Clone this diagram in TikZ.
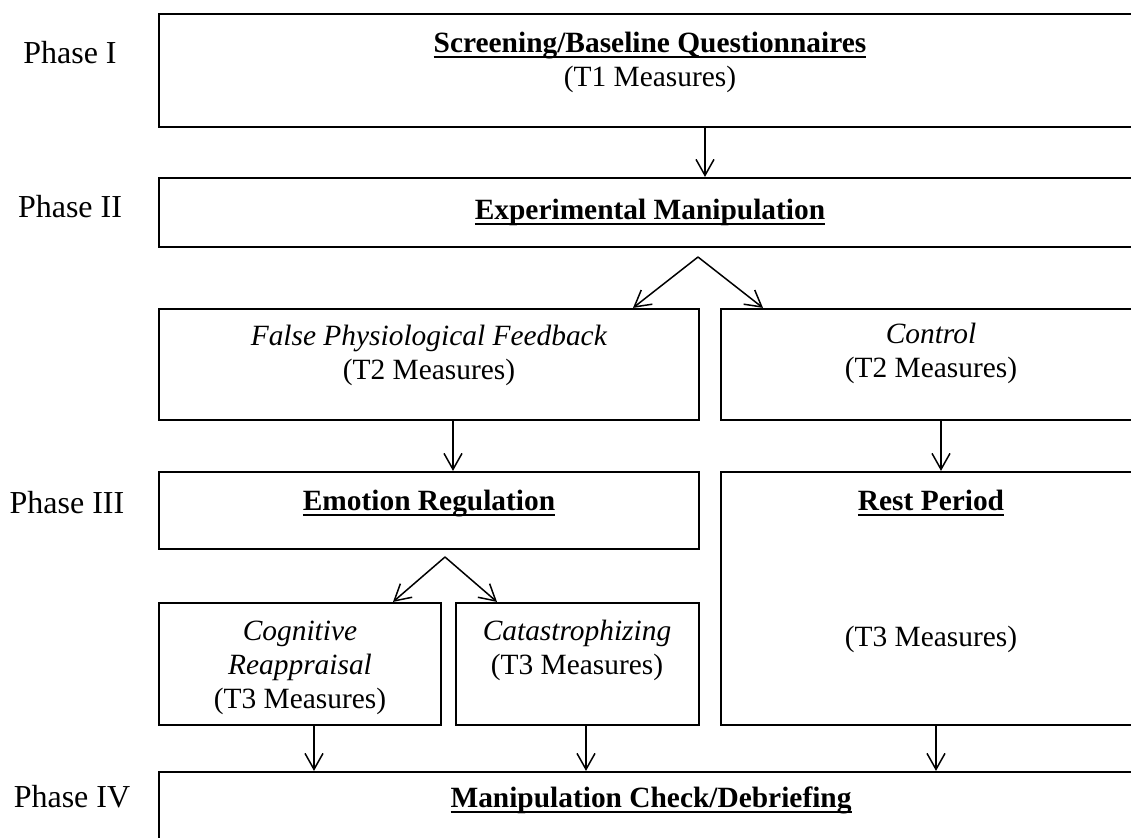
\documentclass[tikz,border=0pt]{standalone}
\usepackage{fontspec}
\setmainfont{Liberation Serif}
\usetikzlibrary{arrows.meta,fit}
\newcommand\ulbold[1]{\setbox0=\hbox{\bfseries #1}\rlap{\rule[-3pt]{\wd0}{1pt}}\box0}

\begin{document}
\begin{tikzpicture}[x=0.5pt,y=-0.5pt,>={Straight Barb[length=8pt,width=9pt]},
  box/.style={draw,line width=1.1pt,inner sep=0pt},
  txt/.style={anchor=base,align=center,inner sep=0pt,font=\fontsize{14.7}{17}\selectfont},
  phase/.style={anchor=base,inner sep=0pt,font=\fontsize{16}{19}\selectfont},
  flow/.style={->,line width=0.75pt}]
\clip (0,0) rectangle (1131,837);
\node[box,fit={(159,14)(1142,127)}] (scr) {};
\node[box,fit={(159,178)(1142,247)}] (exp) {};
\node[box,fit={(159,309)(699,420)}] (fpf) {};
\node[box,fit={(721,309)(1142,420)}] (ctl) {};
\node[box,fit={(159,472)(699,549)}] (emo) {};
\node[box,fit={(721,472)(1142,725)}] (rest) {};
\node[box,fit={(159,603)(441,725)}] (cog) {};
\node[box,fit={(456,603)(699,725)}] (cat) {};
\node[box,fit={(159,772)(1142,880)}] (man) {};
\node[phase] (ph1) at (70,63) {Phase I};
\node[phase] (ph2) at (70,217) {Phase II};
\node[phase] (ph3) at (67,513) {Phase III};
\node[phase] (ph4) at (72,807) {Phase IV};
\node[txt] (scrT) at (650,86) {\ulbold{Screening/Baseline Questionnaires}\\(T1 Measures)};
\node[txt] (expT) at (650,219) {\ulbold{Experimental Manipulation}};
\node[txt] (fpfT) at (429,379) {\textit{False Physiological Feedback}\\(T2 Measures)};
\node[txt] (ctlT) at (931,377) {\textit{Control}\\(T2 Measures)};
\node[txt] (emoT) at (429,510) {\ulbold{Emotion Regulation}};
\node[txt] (restT) at (931,510) {\ulbold{Rest Period}};
\node[txt] (restM) at (931,646) {(T3 Measures)};
\node[txt] (cogT) at (300,708) {\textit{Cognitive}\\\textit{Reappraisal}\\(T3 Measures)};
\node[txt] (catT) at (577,674) {\textit{Catastrophizing}\\(T3 Measures)};
\node[txt] (manT) at (651,807) {\ulbold{Manipulation Check/Debriefing}};
\coordinate (forkA) at (698,257);
\coordinate (forkB) at (445,557);
\draw[flow] (scr.south -| 705,0) -- (exp.north -| 705,0);
\draw[flow] (forkA) -- (fpf.north -| 633,0);
\draw[flow] (forkA) -- (ctl.north -| 763,0);
\draw[flow] (fpf.south -| 453,0) -- (emo.north -| 453,0);
\draw[flow] (ctl.south -| 941,0) -- (rest.north -| 941,0);
\draw[flow] (forkB) -- (cog.north -| 393,0);
\draw[flow] (forkB) -- (cat.north -| 497,0);
\draw[flow] (cog.south -| 314,0) -- (man.north -| 314,0);
\draw[flow] (cat.south -| 586,0) -- (man.north -| 586,0);
\draw[flow] (rest.south -| 936,0) -- (man.north -| 936,0);
\end{tikzpicture}
\end{document}
